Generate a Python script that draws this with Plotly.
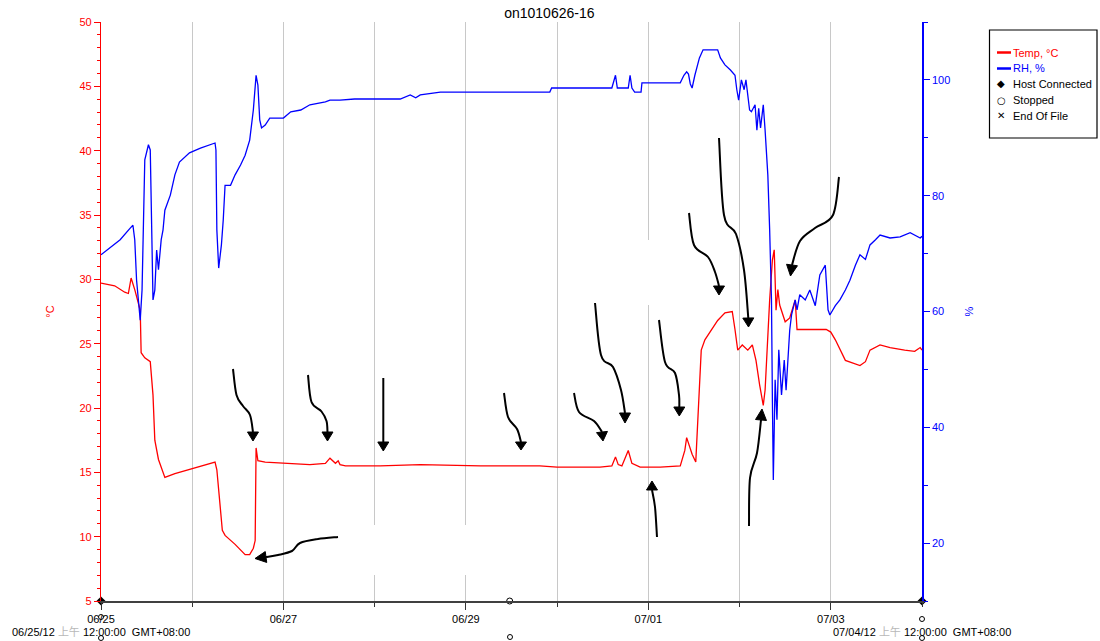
import math
import pandas as pd
import plotly.graph_objects as go

# ---------------- data ----------------
START = pd.Timestamp("2012-06-25 00:00:00")
END = pd.Timestamp("2012-07-04 00:00:00")

# elapsed days since 06/25/12 00:00 and temperature in °C
temp_days = [0.00, 0.15, 0.26, 0.30, 0.33, 0.37, 0.43, 0.44, 0.48, 0.54, 0.57, 0.59, 0.63, 0.67,
             0.70, 0.81, 1.09, 1.25, 1.27, 1.31, 1.33, 1.36, 1.47, 1.58, 1.63, 1.67, 1.69, 1.70,
             1.72, 1.80, 2.00, 2.29, 2.46, 2.51, 2.57, 2.60, 2.62, 2.68, 3.06, 3.50, 4.16, 4.81,
             5.00, 5.47, 5.60, 5.64, 5.67, 5.71, 5.78, 5.82, 5.91, 6.13, 6.35, 6.40, 6.42, 6.48,
             6.52, 6.56, 6.58, 6.62, 6.70, 6.76, 6.84, 6.92, 6.95, 6.98, 7.03, 7.09, 7.14, 7.18,
             7.22, 7.26, 7.28, 7.31, 7.33, 7.36, 7.38, 7.40, 7.42, 7.44, 7.48, 7.50, 7.55, 7.61,
             7.63, 7.95, 8.00, 8.05, 8.16, 8.32, 8.38, 8.43, 8.54, 8.65, 8.81, 8.92, 8.98, 9.00]
temp_c = [29.7, 29.5, 29.0, 28.9, 30.1, 29.2, 27.6, 24.3, 23.9, 23.6, 21.0, 17.5, 16.0, 15.2,
          14.6, 14.9, 15.5, 15.8, 15.2, 12.1, 10.5, 10.1, 9.4, 8.6, 8.6, 9.1, 9.7, 16.9,
          15.9, 15.8, 15.7, 15.6, 15.7, 16.1, 15.7, 15.9, 15.6, 15.5, 15.5, 15.6, 15.5, 15.5,
          15.4, 15.4, 15.5, 16.2, 15.6, 15.5, 16.7, 15.7, 15.4, 15.4, 15.5, 16.7, 17.7, 16.4,
          15.8, 21.4, 24.5, 25.3, 26.1, 26.8, 27.4, 27.5, 26.1, 24.5, 24.9, 24.5, 24.9, 23.7,
          21.8, 20.2, 21.4, 26.1, 28.4, 31.5, 32.3, 27.6, 29.2, 28.0, 27.0, 26.7, 27.0, 28.4,
          26.1, 26.1, 25.9, 25.3, 23.7, 23.3, 23.6, 24.5, 24.9, 24.7, 24.5, 24.4, 24.7, 24.5]

# elapsed days since 06/25/12 00:00 and relative humidity in %
rh_days = [0.00, 0.21, 0.32, 0.35, 0.37, 0.39, 0.43, 0.45, 0.48, 0.52, 0.54, 0.56, 0.57, 0.59,
           0.61, 0.63, 0.66, 0.68, 0.70, 0.76, 0.81, 0.86, 0.97, 1.09, 1.20, 1.25, 1.26, 1.27,
           1.29, 1.32, 1.34, 1.36, 1.42, 1.47, 1.53, 1.58, 1.63, 1.67, 1.70, 1.72, 1.74, 1.76,
           1.80, 1.85, 2.00, 2.08, 2.19, 2.29, 2.46, 2.51, 2.62, 2.78, 3.28, 3.39, 3.45, 3.50,
           3.72, 4.92, 4.94, 5.60, 5.64, 5.66, 5.78, 5.80, 5.82, 5.85, 5.92, 5.93, 6.35, 6.39,
           6.42, 6.44, 6.46, 6.48, 6.51, 6.56, 6.60, 6.76, 6.79, 6.84, 6.90, 6.95, 6.97, 6.99,
           7.02, 7.05, 7.07, 7.09, 7.11, 7.13, 7.17, 7.19, 7.21, 7.23, 7.26, 7.28, 7.31, 7.33,
           7.35, 7.36, 7.37, 7.39, 7.41, 7.43, 7.46, 7.49, 7.51, 7.55, 7.57, 7.61, 7.63, 7.66,
           7.72, 7.77, 7.83, 7.88, 7.94, 7.97, 7.99, 8.05, 8.10, 8.16, 8.21, 8.27, 8.32, 8.38,
           8.43, 8.49, 8.54, 8.65, 8.76, 8.87, 8.98, 9.00]
rh_pct = [69.8, 72.4, 74.4, 74.9, 72.4, 65.4, 58.5, 63.7, 86.2, 88.8, 87.9, 65.4, 62.0, 63.7,
          70.6, 67.2, 72.4, 74.1, 77.5, 80.1, 83.6, 85.8, 87.4, 88.2, 88.8, 89.1, 87.9, 74.1,
          67.5, 71.5, 75.8, 81.8, 81.8, 83.6, 85.3, 87.0, 89.6, 94.8, 100.8, 99.1, 93.1, 91.7,
          92.2, 93.4, 93.4, 94.5, 94.8, 95.7, 96.2, 96.5, 96.5, 96.7, 96.7, 97.4, 96.9, 97.4,
          97.9, 97.9, 98.6, 98.6, 100.8, 98.6, 98.6, 100.8, 98.6, 97.9, 97.9, 99.5, 99.5, 100.8,
          101.4, 101.0, 99.3, 98.6, 100.8, 103.8, 105.2, 105.2, 103.8, 102.6, 101.7, 100.8, 98.3, 96.5,
          100.0, 98.3, 100.0, 97.4, 94.8, 94.5, 95.7, 91.3, 95.1, 91.7, 95.7, 91.3, 83.6, 74.1,
          62.0, 44.7, 30.9, 48.2, 41.3, 53.4, 45.6, 51.6, 46.4, 56.8, 59.4, 62.0, 60.3, 62.9,
          62.0, 63.7, 61.0, 66.3, 68.0, 60.3, 59.4, 61.0, 62.0, 63.7, 65.4, 68.0, 69.8, 69.0,
          71.5, 72.4, 73.2, 72.7, 72.9, 73.6, 72.7, 73.0]

# logger events (elapsed days)
host_connected_days = [0.0, 9.0]
stopped_days = [4.48]

title_text = "on1010626-16"
start_label = "06/25/12 <span style='color:#b8b8b8'>上午</span> 12:00:00  GMT+08:00"
end_label = "07/04/12 <span style='color:#b8b8b8'>上午</span> 12:00:00  GMT+08:00"
legend_items = ["Temp, °C", "RH, %", "Host Connected", "Stopped", "End Of File"]

# ---------------- geometry helpers (decorations only) ----------------
W, H = 1100, 641
PL, PR, PT, PB = 101, 922, 22, 601   # plot area in pixels


def px(x):
    return (x - PL) / (PR - PL)


def py(y):
    return (PB - y) / (PB - PT)


def smooth_path(pts):
    P = [(px(x), py(y)) for x, y in pts]
    d = f"M {P[0][0]:.5f},{P[0][1]:.5f}"
    if len(P) == 2:
        return d + f" L {P[1][0]:.5f},{P[1][1]:.5f}"
    for i in range(len(P) - 1):
        p0 = P[i - 1] if i > 0 else P[i]
        p1, p2 = P[i], P[i + 1]
        p3 = P[i + 2] if i + 2 < len(P) else P[i + 1]
        c1 = (p1[0] + (p2[0] - p0[0]) / 6, p1[1] + (p2[1] - p0[1]) / 6)
        c2 = (p2[0] - (p3[0] - p1[0]) / 6, p2[1] - (p3[1] - p1[1]) / 6)
        d += f" C {c1[0]:.5f},{c1[1]:.5f} {c2[0]:.5f},{c2[1]:.5f} {p2[0]:.5f},{p2[1]:.5f}"
    return d


def head_path(base, tip, hw=5.5):
    bx, by = base
    tx, ty = tip
    dx, dy = tx - bx, ty - by
    L = math.hypot(dx, dy)
    nx, ny = -dy / L, dx / L
    pts = [(tx, ty), (bx + nx * hw, by + ny * hw), (bx - nx * hw, by - ny * hw)]
    return "M " + " L ".join(f"{px(a):.5f},{py(b):.5f}" for a, b in pts) + " Z"


arrows = [
    ([(233, 369), (236.5, 395), (243, 406), (250, 415), (253, 432)], (253, 441)),
    ([(308, 375), (311.5, 402), (321.5, 411.5), (326.5, 421), (327.5, 432)], (327.5, 441)),
    ([(383.3, 378), (383.3, 442)], (383.3, 451)),
    ([(338, 537), (318, 539), (300, 543), (292, 551), (278, 555), (266, 557)], (255, 558.5)),
    ([(504, 393), (508, 417), (517, 429), (521, 442)], (521, 450)),
    ([(574, 393), (579, 412), (594, 421), (602, 432)], (603, 441)),
    ([(595, 303), (601, 355), (613, 367), (621, 390), (625, 413)], (625, 423)),
    ([(659, 320), (665, 362), (675, 373), (679, 395), (679.3, 407)], (679.3, 416)),
    ([(657, 537), (655, 507), (652, 490)], (652, 481)),
    ([(689, 213), (694, 245), (708, 257), (715, 272), (719, 286)], (719, 295)),
    ([(719, 138), (724, 215), (736, 234), (744, 270), (748.3, 318)], (748.5, 327)),
    ([(839, 177), (833, 215), (815, 228), (800, 241), (792, 265)], (790.5, 276)),
    ([(749, 526), (750, 478), (757, 453), (761, 420)], (762, 409)),
]

white_boxes = [(345, 525, 505, 575), (600, 240, 695, 305)]

FONT = "Liberation Sans, Arial, Noto Sans CJK SC, sans-serif"

# ---------------- figure ----------------
fig = go.Figure()

t_x = [START + pd.Timedelta(days=d) for d in temp_days]
r_x = [START + pd.Timedelta(days=d) for d in rh_days]

fig.add_trace(go.Scatter(x=t_x, y=temp_c, mode="lines", name=legend_items[0],
                         line=dict(color="#ff0000", width=1.3), showlegend=False))
fig.add_trace(go.Scatter(x=r_x, y=rh_pct, mode="lines", name=legend_items[1], yaxis="y2",
                         line=dict(color="#0000ff", width=1.3), showlegend=False))

fig.add_trace(go.Scatter(x=[START + pd.Timedelta(days=d) for d in host_connected_days],
                         y=[5] * len(host_connected_days), mode="markers", name=legend_items[2],
                         marker=dict(symbol="diamond", size=7, color="black"),
                         cliponaxis=False, showlegend=False))
fig.add_trace(go.Scatter(x=[START + pd.Timedelta(days=d) for d in stopped_days],
                         y=[5] * len(stopped_days), mode="markers", name=legend_items[3],
                         marker=dict(symbol="circle-open", size=6, color="black", line=dict(width=1)),
                         cliponaxis=False, showlegend=False))

shapes = []
for x0, y0, x1, y1 in white_boxes:
    shapes.append(dict(type="rect", xref="paper", yref="paper", x0=px(x0), x1=px(x1),
                       y0=py(y1), y1=py(y0), fillcolor="white", line=dict(width=0), layer="above"))
for pts, tip in arrows:
    shapes.append(dict(type="path", xref="paper", yref="paper", path=smooth_path(pts),
                       line=dict(color="black", width=2), layer="above"))
    shapes.append(dict(type="path", xref="paper", yref="paper", path=head_path(pts[-1], tip),
                       fillcolor="black", line=dict(color="black", width=1), layer="above"))

# small event circles below the axis
for cx, cy in [(101, 617), (101, 638), (922, 619), (922, 638), (510, 637)]:
    shapes.append(dict(type="circle", xref="paper", yref="paper", x0=px(cx - 2.5), x1=px(cx + 2.5),
                       y0=py(cy + 2.5), y1=py(cy - 2.5), line=dict(color="black", width=1)))

# manual legend
shapes.append(dict(type="rect", xref="paper", yref="paper", x0=px(989.5), x1=px(1097),
                   y0=py(138), y1=py(30), line=dict(color="black", width=1.2), fillcolor="white"))
shapes.append(dict(type="line", xref="paper", yref="paper", x0=px(997), x1=px(1011),
                   y0=py(52.5), y1=py(52.5), line=dict(color="#ff0000", width=2.5)))
shapes.append(dict(type="line", xref="paper", yref="paper", x0=px(997), x1=px(1011),
                   y0=py(68.5), y1=py(68.5), line=dict(color="#0000ff", width=2.5)))

annotations = []
leg_colors = ["#ff0000", "#0000ff", "black", "black", "black"]
leg_y = [52.5, 68.5, 84, 100, 116]
for txt, col, yy in zip(legend_items, leg_colors, leg_y):
    annotations.append(dict(xref="paper", yref="paper", x=px(1011), y=py(yy), text=txt,
                            showarrow=False, xanchor="left", yanchor="middle",
                            font=dict(family=FONT, size=11, color=col)))
for sym, yy in zip(["◆", "○", "✕"], leg_y[2:]):
    annotations.append(dict(xref="paper", yref="paper", x=px(1001), y=py(yy), text=sym,
                            showarrow=False, xanchor="center", yanchor="middle",
                            font=dict(family="DejaVu Sans", size=10, color="black")))

annotations.append(dict(xref="paper", yref="paper", x=px(10), y=py(632), text=start_label,
                        showarrow=False, xanchor="left", yanchor="middle",
                        font=dict(family=FONT, size=11, color="black")))
annotations.append(dict(xref="paper", yref="paper", x=px(831), y=py(632), text=end_label,
                        showarrow=False, xanchor="left", yanchor="middle",
                        font=dict(family=FONT, size=11, color="black")))

fig.update_layout(
    width=W, height=H,
    margin=dict(l=PL, r=W - PR, t=PT, b=H - PB, pad=0, autoexpand=False),
    paper_bgcolor="white", plot_bgcolor="white",
    showlegend=False,
    title=dict(text=title_text, x=px(511), xanchor="center", y=1 - 13 / H, yanchor="middle",
               yref="container", font=dict(family=FONT, size=14, color="black")),
    font=dict(family=FONT, size=11),
    xaxis=dict(type="date", range=[START, END], tickformat="%m/%d", tick0=START,
               dtick=2 * 86400000, ticks="outside", ticklen=7, tickcolor="#333333", tickwidth=1.2,
               showgrid=True, gridcolor="#c8c8c8", gridwidth=1,
               minor=dict(dtick=86400000, tick0=START, ticks="outside", ticklen=4,
                          tickcolor="#333333", showgrid=True, gridcolor="#c8c8c8"),
               showline=True, linecolor="#404040", linewidth=1.5, zeroline=False,
               tickfont=dict(family=FONT, size=11, color="black")),
    yaxis=dict(range=[5, 50], tick0=0, dtick=5, ticks="outside", ticklen=6, tickcolor="#ff0000",
               minor=dict(dtick=1, ticks="outside", ticklen=3, tickcolor="#ff0000"),
               showline=True, linecolor="#ff0000", linewidth=1.2, showgrid=False, zeroline=False,
               tickfont=dict(family=FONT, size=11, color="#ff0000"),
               title=dict(text="°C", standoff=22, font=dict(family=FONT, size=11, color="#ff0000"))),
    yaxis2=dict(range=[10, 110], tick0=0, dtick=20, overlaying="y", side="right",
                ticks="outside", ticklen=6, tickcolor="#0000ff",
                minor=dict(dtick=10, ticks="outside", ticklen=4, tickcolor="#0000ff"),
                showline=True, linecolor="#0000ff", linewidth=1.5, showgrid=False, zeroline=False,
                tickfont=dict(family=FONT, size=11, color="#0000ff"),
                title=dict(text="%", standoff=16, font=dict(family=FONT, size=11, color="#0000ff"))),
    shapes=shapes,
    annotations=annotations,
)

# remove the browser's default 8px page margin so the figure fills the window exactly
fig.write_html("out.html", config={"displayModeBar": False},
               post_script="document.body.style.margin='0px';")
